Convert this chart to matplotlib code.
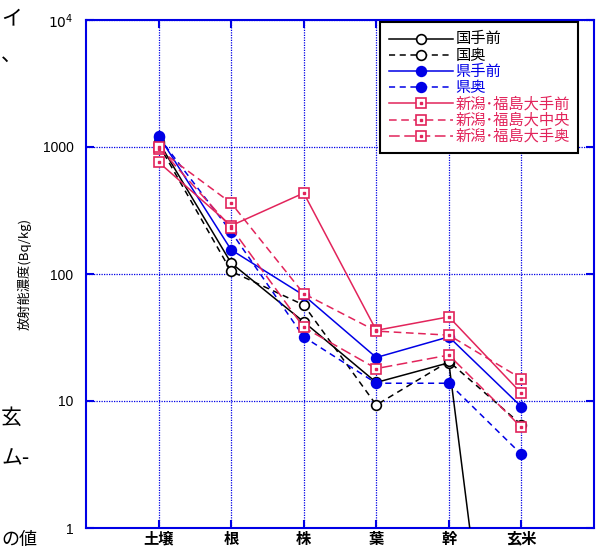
import numpy as np
import matplotlib
matplotlib.use("Agg")
import matplotlib.pyplot as plt
from matplotlib.ticker import FixedLocator, NullLocator
from matplotlib.legend_handler import HandlerTuple

plt.rcParams['font.family'] = ['Noto Sans CJK JP', 'DejaVu Sans']

categories = ['土壌', '根', '株', '葉', '幹', '玄米']

series_names = ['国手前', '国奥', '県手前', '県奥',
                '新潟･福島大手前', '新潟･福島大中央', '新潟･福島大手奥']

kuni_temae = [1100, 122, 42, 14, 20, 0.0006]
kuni_oku = [1050, 105, 57, 9.3, 20.5, 6.5]
ken_temae = [1230, 155, 68, 22, 32, 9.0]
ken_oku = [1200, 215, 32, 13.8, 13.8, 3.8]
niigata_temae = [760, 240, 434, 36, 46, 11.5]
niigata_chuo = [960, 362, 70, 35.5, 33, 15]
niigata_oku = [1000, 232, 38, 18, 23, 6.2]

y_ticks = [1, 10, 100, 1000, 10000]
y_tick_labels = ['1', '10', '100', '1000', '$10^4$']

BLUE = '#0000e6'
PINK = '#e2245b'

fig = plt.figure(figsize=(5.98, 5.49), dpi=100)
ax = fig.add_axes([86/598, 1-528/549, (594-86)/598, (528-20)/549])

x = np.arange(1, len(categories) + 1)

styles = [
    (kuni_temae, 'k', '-', 'o', 'white'),
    (kuni_oku, 'k', (0, (4, 3)), 'o', 'white'),
    (ken_temae, BLUE, '-', 'o', BLUE),
    (ken_oku, BLUE, (0, (4, 3)), 'o', BLUE),
    (niigata_temae, PINK, '-', 's', 'white'),
    (niigata_chuo, PINK, (0, (5, 3)), 's', 'white'),
    (niigata_oku, PINK, (0, (7, 3)), 's', 'white'),
]

handles = []
for (vals, col, ls, mk, fc), name in zip(styles, series_names):
    ms = 7 if mk == 'o' else 7.5
    h, = ax.plot(x, vals, color=col, linestyle=ls, linewidth=1.1,
                 marker=mk, markersize=ms, markerfacecolor=fc,
                 markeredgecolor=col, markeredgewidth=1.2, label=name,
                 clip_on=True, zorder=3)
    if mk == 's':
        d, = ax.plot(x, vals, linestyle='none', marker='s', markersize=1.6,
                     color=col, zorder=4)
        handles.append((h, d))
    else:
        handles.append(h)

ax.set_yscale('log')
ax.set_ylim(1, 10000)
ax.set_xlim(0, 7)
ax.yaxis.set_major_locator(FixedLocator(y_ticks))
ax.yaxis.set_minor_locator(NullLocator())
ax.set_yticklabels(y_tick_labels, fontfamily='Liberation Sans', fontsize=10)
ax.set_xticks(x)
ax.set_xticklabels(categories, fontsize=11, fontweight='bold')

ax.grid(True, which='major', color=BLUE, linestyle=(0, (1, 1)), linewidth=0.9)
for s in ax.spines.values():
    s.set_color(BLUE)
    s.set_linewidth(1.5)
ax.tick_params(axis='both', which='major', direction='in', length=6,
               width=1.5, color=BLUE, top=True, right=True)
ax.tick_params(axis='x', pad=2)
ax.tick_params(axis='y', pad=9)

ax.set_ylabel('放射能濃度(Bq/kg)', fontsize=9.5, labelpad=8)

leg = ax.legend(handles=handles, labels=series_names, loc='upper right',
                bbox_to_anchor=((578-86)/508, (528-22)/508),
                handler_map={tuple: HandlerTuple(ndivide=1, pad=0)},
                fontsize=11, frameon=True, fancybox=False, edgecolor='black',
                framealpha=1, labelspacing=-0.05, handlelength=4.2,
                handleheight=0.5, handletextpad=0.15, borderpad=0.55,
                borderaxespad=0.0)
leg.get_frame().set_linewidth(1.5)
text_colors = ['black', 'black', BLUE, BLUE, PINK, PINK, PINK]
for t, c in zip(leg.get_texts(), text_colors):
    t.set_color(c)

# stray page text at the left edge
fig.text(0.002, 1 - 18/549, 'イ', fontsize=15, va='center', ha='left')
fig.text(0.002, 1 - 55/549, '、', fontsize=15, va='center', ha='left')
fig.text(0.002, 1 - 418/549, '玄', fontsize=15, va='center', ha='left')
fig.text(0.002, 1 - 458/549, 'ム-', fontsize=15, va='center', ha='left')
fig.text(0.002, 1 - 540/549, 'の値', fontsize=13, va='center', ha='left')

fig.savefig('out.png', dpi=100)
